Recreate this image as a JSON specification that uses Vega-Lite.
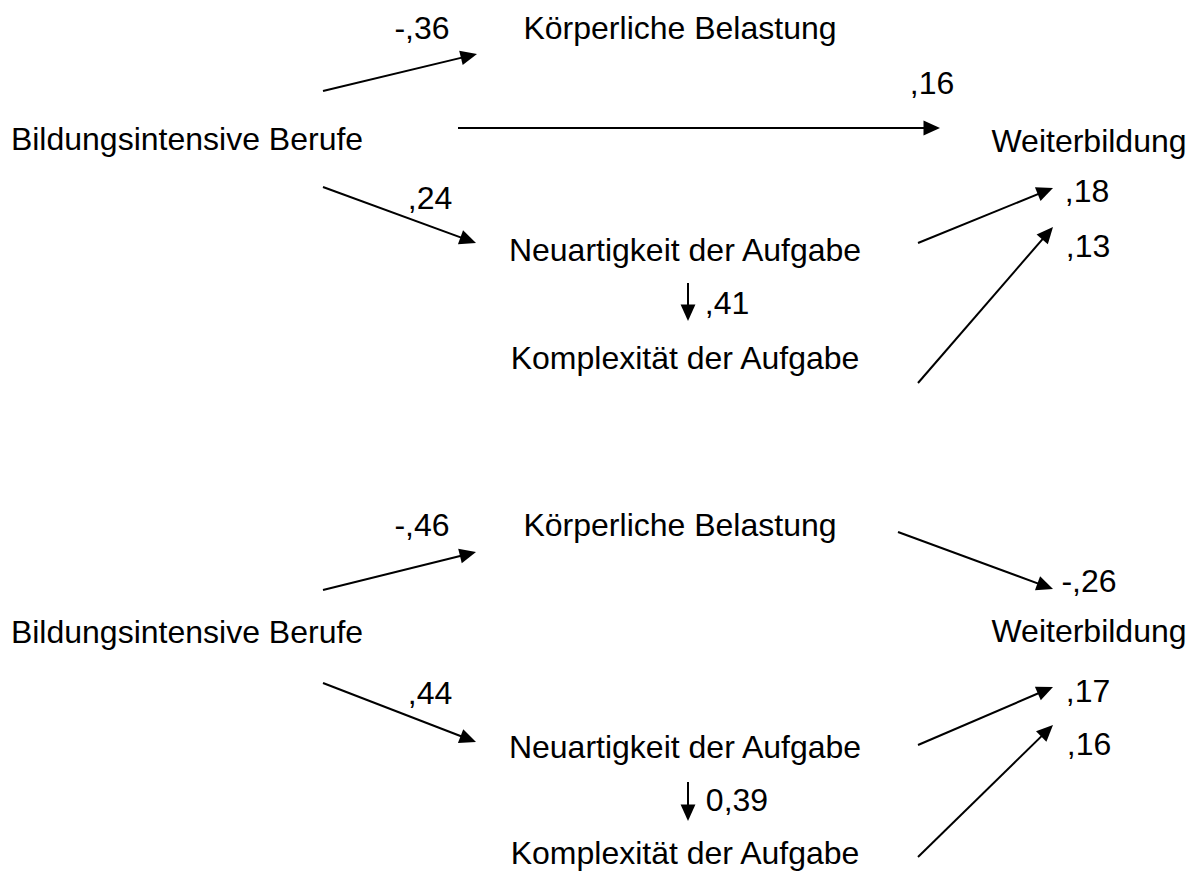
{
  "$schema": "https://vega.github.io/schema/vega-lite/v6.json",
  "width": 1192,
  "height": 872,
  "autosize": {"type": "fit", "contains": "padding"},
  "padding": 0,
  "background": "white",
  "config": {"view": {"stroke": null}},
  "datasets": {
    "labels": [
      {"t": "-,36", "x": 422, "y": 29},
      {"t": "Körperliche Belastung", "x": 680, "y": 29},
      {"t": ",16", "x": 932, "y": 84},
      {"t": "Bildungsintensive Berufe", "x": 187, "y": 140},
      {"t": "Weiterbildung", "x": 1089, "y": 142},
      {"t": ",24", "x": 430, "y": 199},
      {"t": ",18", "x": 1087, "y": 192},
      {"t": "Neuartigkeit der Aufgabe", "x": 685, "y": 251},
      {"t": ",13", "x": 1088, "y": 247},
      {"t": ",41", "x": 727, "y": 304},
      {"t": "Komplexität der Aufgabe", "x": 685, "y": 359},
      {"t": "-,46", "x": 422, "y": 526},
      {"t": "Körperliche Belastung", "x": 680, "y": 526},
      {"t": "-,26", "x": 1089, "y": 582},
      {"t": "Bildungsintensive Berufe", "x": 187, "y": 633},
      {"t": "Weiterbildung", "x": 1089, "y": 632},
      {"t": ",44", "x": 430, "y": 694},
      {"t": ",17", "x": 1088, "y": 692},
      {"t": "Neuartigkeit der Aufgabe", "x": 685, "y": 748},
      {"t": ",16", "x": 1089, "y": 745},
      {"t": "0,39", "x": 737, "y": 801},
      {"t": "Komplexität der Aufgabe", "x": 685, "y": 854}
    ],
    "arrows": [
      {"x1": 323, "y1": 91, "x2": 477, "y2": 54},
      {"x1": 458, "y1": 128, "x2": 940, "y2": 128},
      {"x1": 323, "y1": 187, "x2": 476, "y2": 243},
      {"x1": 918, "y1": 243, "x2": 1053, "y2": 188},
      {"x1": 918, "y1": 383, "x2": 1053, "y2": 227},
      {"x1": 688, "y1": 283, "x2": 688, "y2": 321},
      {"x1": 323, "y1": 590, "x2": 476, "y2": 552},
      {"x1": 898, "y1": 532, "x2": 1053, "y2": 589},
      {"x1": 323, "y1": 683, "x2": 476, "y2": 742},
      {"x1": 918, "y1": 745, "x2": 1053, "y2": 687},
      {"x1": 918, "y1": 857, "x2": 1053, "y2": 725},
      {"x1": 688, "y1": 782, "x2": 688, "y2": 821}
    ]
  },
  "layer": [
    {
      "data": {"name": "arrows"},
      "transform": [
        {"calculate": "sqrt(pow(datum.x2 - datum.x1, 2) + pow(datum.y2 - datum.y1, 2))", "as": "len"},
        {"calculate": "datum.x2 - 7 * (datum.x2 - datum.x1) / datum.len", "as": "lx2"},
        {"calculate": "datum.y2 - 7 * (datum.y2 - datum.y1) / datum.len", "as": "ly2"}
      ],
      "mark": {"type": "rule", "color": "black", "strokeWidth": 2},
      "encoding": {
        "x": {"field": "x1", "type": "quantitative", "scale": {"domain": [0, 1192], "nice": false, "zero": false}, "axis": null},
        "y": {"field": "y1", "type": "quantitative", "scale": {"domain": [0, 872], "nice": false, "zero": false, "reverse": true}, "axis": null},
        "x2": {"field": "lx2"},
        "y2": {"field": "ly2"}
      }
    },
    {
      "data": {"name": "arrows"},
      "transform": [
        {"calculate": "atan2(datum.x2 - datum.x1, datum.y1 - datum.y2) * 180 / PI", "as": "ang"}
      ],
      "mark": {"type": "point", "shape": "M0,0L0.45,1L-0.45,1Z", "filled": true, "color": "black", "opacity": 1, "size": 1089, "strokeWidth": 0},
      "encoding": {
        "x": {"field": "x2", "type": "quantitative", "axis": null},
        "y": {"field": "y2", "type": "quantitative", "axis": null},
        "angle": {"field": "ang", "type": "quantitative", "scale": null}
      }
    },
    {
      "data": {"name": "labels"},
      "mark": {"type": "text", "font": "Liberation Sans", "fontSize": 32, "color": "black", "align": "center", "baseline": "middle"},
      "encoding": {
        "x": {"field": "x", "type": "quantitative", "axis": null},
        "y": {"field": "y", "type": "quantitative", "axis": null},
        "text": {"field": "t"}
      }
    }
  ]
}
